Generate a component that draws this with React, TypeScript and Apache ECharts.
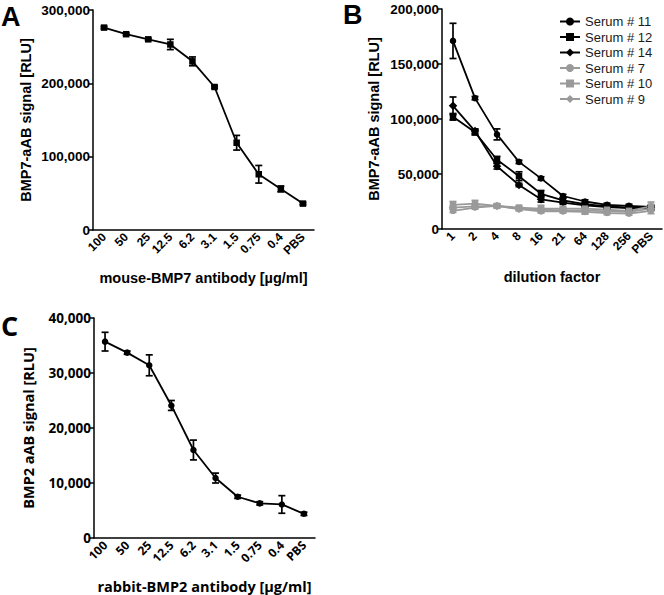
import React, { useEffect, useRef } from "react";
import * as echarts from "echarts";

const catsA = ["100", "50", "25", "12.5", "6.2", "3.1", "1.5", "0.75", "0.4", "PBS"];
const valsA = [276000, 267000, 260000, 253000, 230000, 195000, 119000, 76000, 56000, 36000];
const errA = [1500, 1500, 1500, 7000, 6000, 1500, 10000, 12000, 4000, 1500];

const catsB = ["1", "2", "4", "8", "16", "21", "64", "128", "256", "PBS"];
const s11 = [171000, 119000, 86000, 61000, 46000, 30000, 25000, 22000, 21000, 20000];
const e11 = [16000, 1500, 5000, 1500, 1500, 1500, 1500, 1500, 1500, 1500];
const s12 = [102000, 88000, 63000, 48000, 32000, 26000, 22500, 20500, 19500, 19500];
const e12 = [3000, 2500, 3000, 4000, 3000, 2000, 1500, 1500, 1500, 1500];
const s14 = [112000, 89000, 57000, 40000, 27000, 24000, 21500, 20000, 19000, 19000];
const e14 = [8000, 2000, 2500, 1500, 2500, 1500, 1500, 1500, 1500, 1500];
const s7 = [16500, 19500, 21000, 18000, 16000, 16000, 15500, 14500, 14000, 16500];
const e7 = [1500, 1500, 1500, 1500, 1500, 1500, 1500, 1500, 1500, 2500];
const s10 = [22000, 23000, 21000, 19500, 18500, 18500, 18500, 17500, 16500, 20500];
const e10 = [3000, 3000, 1500, 1500, 3000, 1500, 5000, 1500, 1500, 4000];
const s9 = [19500, 20500, 21000, 18500, 17500, 17000, 17000, 16000, 15500, 18500];
const e9 = [1500, 1500, 1500, 1500, 1500, 1500, 1500, 1500, 1500, 1500];

const catsC = ["100", "50", "25", "12.5", "6.2", "3.1", "1.5", "0.75", "0.4", "PBS"];
const valsC = [35700, 33700, 31400, 24100, 16000, 10900, 7500, 6300, 6100, 4400];
const errC = [1700, 300, 1900, 900, 1800, 900, 300, 300, 1600, 300];

const BLACK = "#000000";
const GREY = "#9a9a9a";
const SANS = "Liberation Sans";
const SANS_C = "Open Sans";

function errData(vals: number[], errs: number[]) {
  return vals.map((v, i) => [i, v - errs[i], v + errs[i]]);
}

function errSeries(name: string, vals: number[], errs: number[], axis: number, color: string) {
  return {
    type: "custom",
    name: name + "-err",
    xAxisIndex: axis,
    yAxisIndex: axis,
    data: errData(vals, errs),
    z: 3,
    silent: true,
    renderItem: (params: any, api: any) => {
      const i = api.value(0);
      const lo = api.coord([i, api.value(1)]);
      const hi = api.coord([i, api.value(2)]);
      const w = 3.5;
      const style = { stroke: color, lineWidth: 1.7, fill: "none" };
      return {
        type: "group",
        children: [
          { type: "line", shape: { x1: lo[0], y1: lo[1], x2: hi[0], y2: hi[1] }, style },
          { type: "line", shape: { x1: lo[0] - w, y1: lo[1], x2: lo[0] + w, y2: lo[1] }, style },
          { type: "line", shape: { x1: hi[0] - w, y1: hi[1], x2: hi[0] + w, y2: hi[1] }, style },
        ],
      };
    },
  };
}

function lineSeries(name: string, vals: number[], axis: number, color: string, symbol: string, size: number) {
  return {
    type: "line",
    name,
    xAxisIndex: axis,
    yAxisIndex: axis,
    data: vals,
    symbol,
    symbolSize: size,
    showSymbol: true,
    z: 4,
    lineStyle: { color, width: 1.8 },
    itemStyle: { color, borderWidth: 0 },
  };
}

function fmt(v: number) {
  return v.toLocaleString("en-US");
}

function xAxis(cats: string[], grid: number, name: string, gap: number, font: string) {
  return {
    type: "category",
    gridIndex: grid,
    data: cats,
    boundaryGap: true,
    name,
    nameLocation: "middle",
    nameGap: gap,
    nameTextStyle: { fontFamily: font, fontSize: 14.5, fontWeight: "bold", color: BLACK },
    axisLine: { lineStyle: { color: BLACK, width: 1.5 } },
    axisTick: { alignWithLabel: true, length: 5, lineStyle: { color: BLACK, width: 1.5 } },
    axisLabel: { rotate: 45, fontFamily: font, fontSize: 12, fontWeight: "bold", color: BLACK, margin: 5, interval: 0 },
    splitLine: { show: false },
  };
}

function yAxis(grid: number, max: number, interval: number, name: string, gap: number, font: string) {
  return {
    type: "value",
    gridIndex: grid,
    min: 0,
    max,
    interval,
    name,
    nameLocation: "middle",
    nameGap: gap,
    nameTextStyle: { fontFamily: font, fontSize: 14.5, fontWeight: "bold", color: BLACK },
    axisLine: { show: true, lineStyle: { color: BLACK, width: 1.5 } },
    axisTick: { show: true, length: 5, lineStyle: { color: BLACK, width: 1.5 } },
    axisLabel: { fontFamily: font, fontSize: 13.5, fontWeight: "bold", color: BLACK, margin: 3, formatter: fmt },
    splitLine: { show: false },
  };
}

export default function App() {
  const ref = useRef<HTMLDivElement>(null);
  useEffect(() => {
    if (!ref.current) return;
    const chart = echarts.init(ref.current, undefined, { renderer: "svg" });
    chart.setOption({
      animation: false,
      backgroundColor: "#ffffff",
      grid: [
        { left: 93, top: 10, width: 221, height: 220 },
        { left: 442, top: 9, width: 220, height: 220 },
        { left: 94, top: 318, width: 221, height: 220 },
      ],
      xAxis: [
        xAxis(catsA, 0, "mouse-BMP7 antibody [µg/ml]", 40, SANS),
        xAxis(catsB, 1, "dilution factor", 40, SANS),
        xAxis(catsC, 2, "rabbit-BMP2 antibody [µg/ml]", 41, SANS_C),
      ],
      yAxis: [
        yAxis(0, 300000, 100000, "BMP7-aAB signal [RLU]", 60, SANS),
        yAxis(1, 200000, 50000, "BMP7-aAB signal [RLU]", 61, SANS),
        yAxis(2, 40000, 10000, "BMP2 aAB signal [RLU]", 58, SANS_C),
      ],
      legend: {
        show: true,
        orient: "vertical",
        left: 554,
        top: 9,
        itemWidth: 20,
        itemHeight: 10,
        itemGap: 0.5,
        data: ["Serum # 11", "Serum # 12", "Serum # 14", "Serum # 7", "Serum # 10", "Serum # 9"],
        textStyle: { fontFamily: SANS, fontSize: 13, color: "#1a1a1a", lineHeight: 15 },
      },
      graphic: [
        { type: "text", left: 1, top: 3, style: { text: "A", fontFamily: SANS, fontSize: 27, fontWeight: "bold", fill: BLACK } },
        { type: "text", left: 343, top: 1, style: { text: "B", fontFamily: SANS, fontSize: 27, fontWeight: "bold", fill: BLACK } },
        { type: "text", left: 1, top: 312, style: { text: "C", fontFamily: SANS_C, fontSize: 27, fontWeight: "bold", fill: BLACK } },
      ],
      series: [
        lineSeries("A", valsA, 0, BLACK, "rect", 6.5),
        errSeries("A", valsA, errA, 0, BLACK),
        lineSeries("Serum # 11", s11, 1, BLACK, "circle", 6.5),
        errSeries("Serum # 11", s11, e11, 1, BLACK),
        lineSeries("Serum # 12", s12, 1, BLACK, "rect", 6.5),
        errSeries("Serum # 12", s12, e12, 1, BLACK),
        lineSeries("Serum # 14", s14, 1, BLACK, "diamond", 8.5),
        errSeries("Serum # 14", s14, e14, 1, BLACK),
        lineSeries("Serum # 7", s7, 1, GREY, "circle", 6.5),
        errSeries("Serum # 7", s7, e7, 1, GREY),
        lineSeries("Serum # 10", s10, 1, GREY, "rect", 6.5),
        errSeries("Serum # 10", s10, e10, 1, GREY),
        lineSeries("Serum # 9", s9, 1, GREY, "diamond", 8.5),
        errSeries("Serum # 9", s9, e9, 1, GREY),
        lineSeries("C", valsC, 2, BLACK, "circle", 6.5),
        errSeries("C", valsC, errC, 2, BLACK),
      ],
    });
    return () => chart.dispose();
  }, []);
  return (
    <div style={{ position: "fixed", left: 0, top: 0, width: 664, height: 595, background: "#fff" }}>
      <div ref={ref} style={{ width: 664, height: 595 }} />
    </div>
  );
}
